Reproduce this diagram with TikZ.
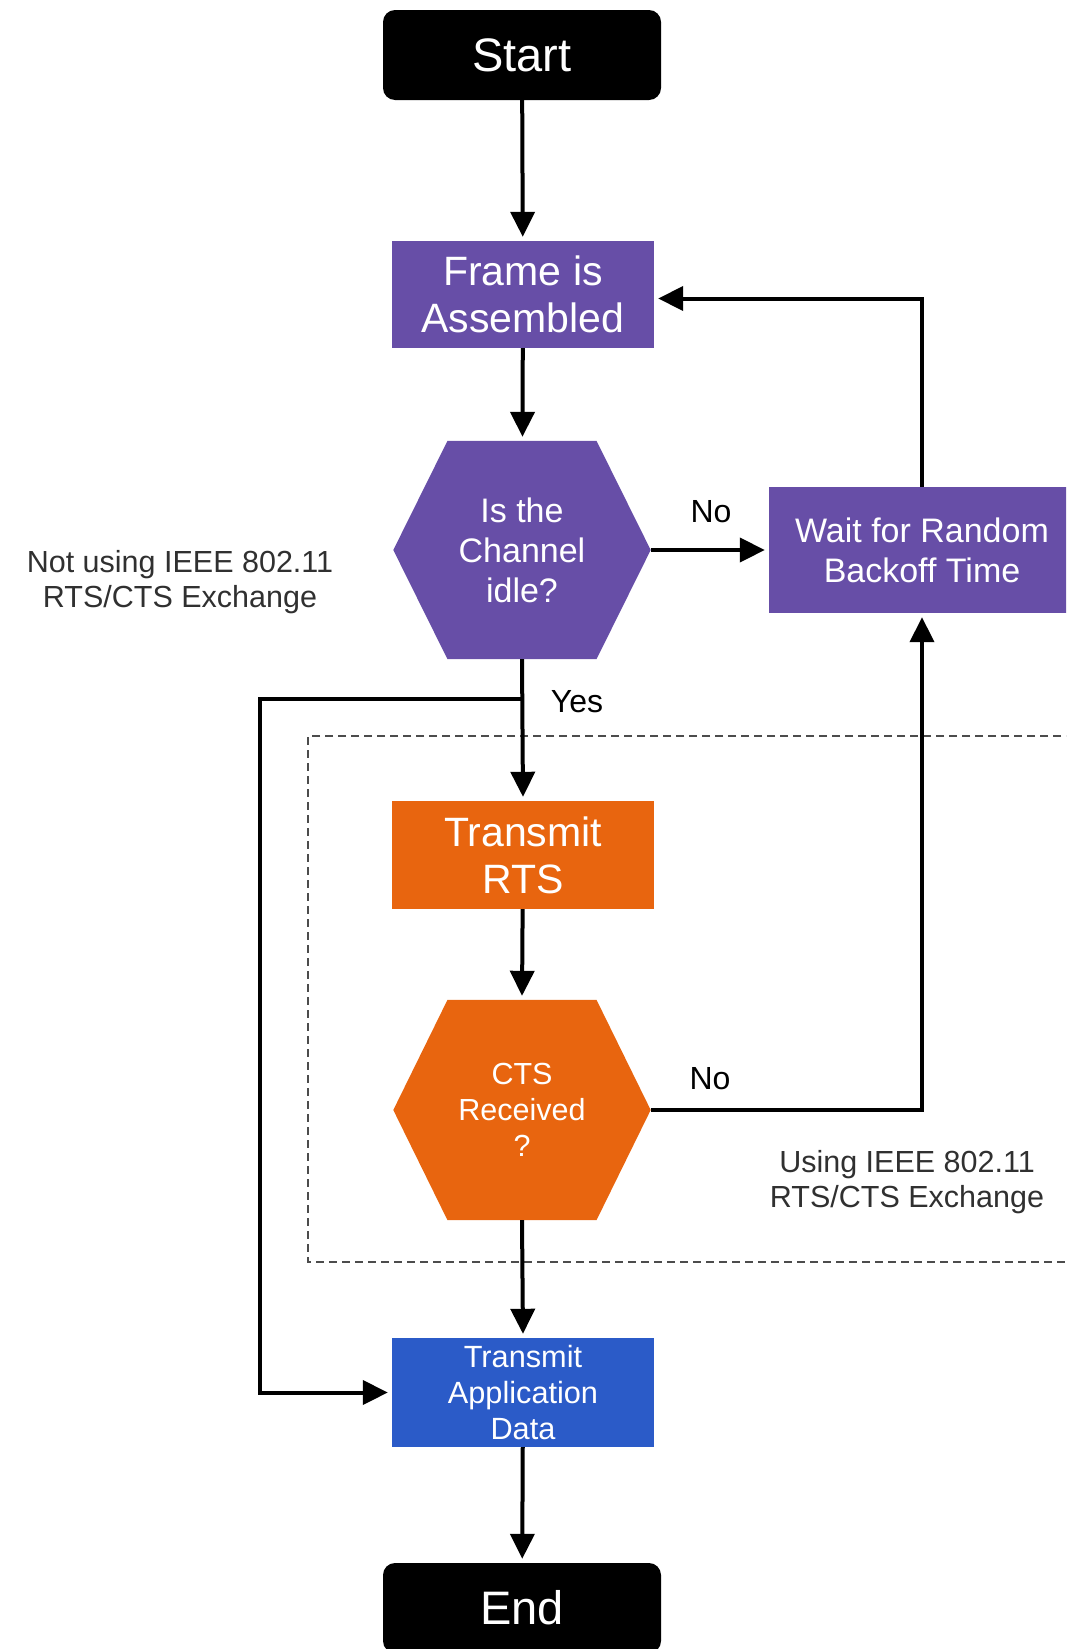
\documentclass[tikz,border=0pt]{standalone}
\usepackage{fontspec}
\setmainfont{Liberation Sans}
\usetikzlibrary{arrows.meta,backgrounds}
\definecolor{cpurple}{HTML}{674EA7}
\definecolor{corange}{HTML}{E8650F}
\definecolor{cblue}{HTML}{2B5BC8}
\definecolor{cnote}{HTML}{303030}
\begin{document}
\begin{tikzpicture}[x=1pt,y=-1pt,
  term/.style={rounded corners=12pt, fill=black, text=white, minimum width=278pt,
    minimum height=90pt, inner sep=0pt, font=\fontsize{47}{56}\selectfont},
  procbox/.style={fill=#1, text=white, inner sep=0pt, align=center, minimum width=262pt},
  hexbox/.style={inner sep=0pt, align=center, minimum width=257pt, text=white},
  arr/.style={line width=4pt, -{Triangle[length=25pt,width=24pt]}, shorten >=4pt},
  plain/.style={line width=4pt},
  lbl/.style={text=black, inner sep=0pt, font=\fontsize{32}{38}\selectfont},
  note/.style={text=cnote, align=center, inner sep=0pt, font=\fontsize{30.5}{35}\selectfont},
  dashbox/.style={draw=black!70, line width=2.2pt, dash pattern=on 8pt off 5pt}
]
\useasboundingbox (0,0) rectangle (1066,1649);
\clip (0,0) rectangle (1066,1649);

% dashed region
\draw[dashbox] (1100,736) -- (308,736) -- (308,1262) -- (1100,1262);

% nodes
\node[term] (start) at (522,55) {Start};
\node[procbox=cpurple, minimum height=107pt, font=\fontsize{41}{47}\selectfont] (frame) at (523,294.5) {Frame is\\Assembled};
\node[hexbox, minimum height=218pt, font=\fontsize{34}{40}\selectfont] (idle) at (522,550) {Is the\\Channel\\idle?};
\node[procbox=cpurple, minimum width=306pt, minimum height=126pt, font=\fontsize{34}{40}\selectfont] (wait) at (922,550) {Wait for Random\\Backoff Time};
\node[procbox=corange, minimum height=108pt, font=\fontsize{41}{47}\selectfont] (rts) at (523,855) {Transmit\\RTS};
\node[hexbox, minimum height=220pt, font=\fontsize{30.5}{36}\selectfont] (cts) at (522,1110) {CTS\\Received\\?};
\node[procbox=cblue, minimum height=109pt, font=\fontsize{30.7}{36}\selectfont] (tad) at (523,1392.5) {Transmit\\Application\\Data};
\node[term] (end) at (522,1608) {End};

% hexagon fills
\begin{scope}[on background layer]
  \fill[cpurple] (idle.west) -- ([xshift=-74.5pt]idle.north) -- ([xshift=74.5pt]idle.north)
    -- (idle.east) -- ([xshift=74.5pt]idle.south) -- ([xshift=-74.5pt]idle.south) -- cycle;
  \fill[corange] (cts.west) -- ([xshift=-74.5pt]cts.north) -- ([xshift=74.5pt]cts.north)
    -- (cts.east) -- ([xshift=74.5pt]cts.south) -- ([xshift=-74.5pt]cts.south) -- cycle;
\end{scope}

% labels
\node[lbl] (no1) at (711,512) {No};
\node[lbl] (yes) at (577,702) {Yes};
\node[lbl] (no2) at (710,1079) {No};
\node[note] (notusing) at (180,582) {Not using IEEE 802.11\\RTS/CTS Exchange};
\node[note] (using) at (907,1182) {Using IEEE 802.11\\RTS/CTS Exchange};

% connectors
\coordinate (br) at (522,699);
\coordinate (lft) at (260,699);
\draw[arr] (start) -- (frame);
\draw[arr] (frame) -- (idle);
\draw[arr] (idle.east) -- (wait.west);
\draw[arr] (wait.north) |- ([yshift=-4pt]frame.east);
\draw[arr] (idle.south) -- (rts.north);
\draw[arr] (br) -- (lft) |- (tad.west);
\draw[arr] (rts) -- (cts.north);
\draw[arr] (cts.east) -| (wait.south);
\draw[arr] (cts.south) -- (tad.north);
\draw[arr] (tad) -- (end);
\end{tikzpicture}
\end{document}
